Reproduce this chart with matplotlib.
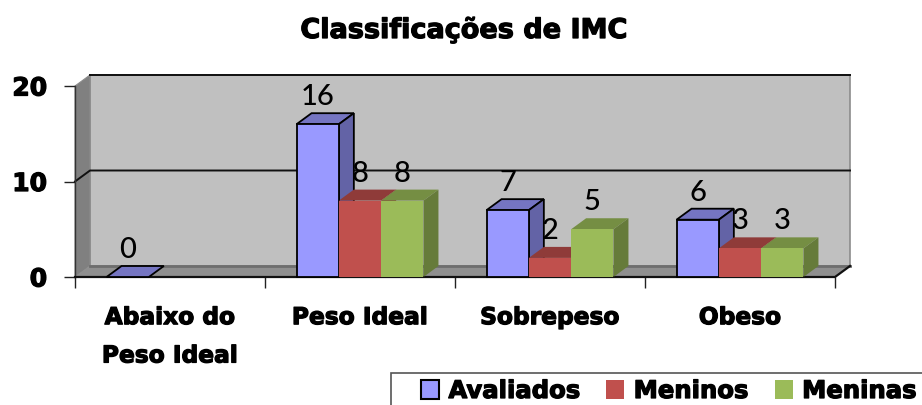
import numpy as np
import matplotlib
matplotlib.use("Agg")
import matplotlib.pyplot as plt
import matplotlib.patheffects as pe
from matplotlib.patches import Patch, Rectangle

categories = ["Abaixo do\nPeso Ideal", "Peso Ideal", "Sobrepeso", "Obeso"]
avaliados = [0, 16, 7, 6]
meninos = [None, 8, 2, 3]
meninas = [None, 8, 5, 3]
series_names = ["Avaliados", "Meninos", "Meninas"]
y_ticks = [0, 10, 20]

# front, top, side, edge
blue = ("#9999FF", "#7575C2", "#6363A6", "black")
red = ("#C0504D", "#8F3B39", "#8F3B39", "none")
green = ("#9BBB59", "#758E43", "#667B3A", "none")

W, H = 922, 405
FONT = "DejaVu Sans"
heavy = [pe.withStroke(linewidth=0.9, foreground="black")]

fig = plt.figure(figsize=(W / 100, H / 100), dpi=100)
ax = fig.add_axes([75 / W, (H - 277) / H, 760 / W, 191 / H])
ax.set_xlim(0, 4)
ax.set_ylim(0, 20)

# 3d offset in data units
dx = 15 / 190
dy = 11 / 9.55
bar_w = 42.3 / 190


def poly(xs, ys, color, edge="none", lw=0, z=1):
    ax.fill(xs, ys, facecolor=color, edgecolor=edge, linewidth=lw, zorder=z, clip_on=False)


# walls
poly([dx, 4 + dx, 4 + dx, dx], [dy, dy, 20 + dy, 20 + dy], "#C0C0C0", "#8C8C8C", 1.2)
poly([0, dx, dx, 0], [0, dy, 20 + dy, 20], "#808080", "#8C8C8C", 0.8)
poly([0, 4, 4 + dx, dx], [0, 0, dy, dy], "#8F8F8F")
ax.plot([dx, 4 + dx], [dy, dy], color="#6E6E6E", lw=2, zorder=1.5, clip_on=False)
ax.plot([0, dx, 4 + dx], [10, 10 + dy, 10 + dy], color="#111111", lw=1.4, zorder=1.6, clip_on=False)
ax.plot([dx, 4 + dx], [20 + dy, 20 + dy], color="#111111", lw=1.4, zorder=1.6, clip_on=False)
ax.plot([0, 0], [0, 20], color="#333333", lw=1, zorder=1.6, clip_on=False)
ax.plot([0, 4, 4 + dx], [0, 0, dy], color="#111111", lw=1.6, zorder=1.6, clip_on=False)


def bar3d(x, v, colors, z):
    front, top, side, edge = colors
    lw = 1.3 if edge != "none" else 0
    poly([x, x + bar_w, x + bar_w + dx, x + dx], [v, v, v + dy, v + dy], top, edge, lw, z)
    if v > 0:
        poly([x + bar_w, x + bar_w + dx, x + bar_w + dx, x + bar_w], [0, dy, v + dy, v], side, edge, lw, z)
        poly([x, x + bar_w, x + bar_w, x], [0, 0, v, v], front, edge, lw, z)
    ax.annotate(str(v), (x + bar_w / 2, v), xytext=(0, 19.5), textcoords="offset points",
                ha="center", va="center", fontsize=21, family="Lato", fontweight="medium",
                color="black", zorder=20, annotation_clip=False)


z = 2
for i in range(len(categories)):
    start = i + 0.5 - 1.5 * bar_w
    for j, (vals, cols) in enumerate(zip((avaliados, meninos, meninas), (blue, red, green))):
        if vals[i] is None:
            continue
        bar3d(start + j * bar_w, vals[i], cols, z)
        z += 1

for s in ax.spines.values():
    s.set_visible(False)
ax.patch.set_visible(False)

ax.set_yticks(y_ticks)
ylabels = ax.set_yticklabels([str(t) for t in y_ticks], fontsize=18, fontweight="bold", family=FONT)
ax.tick_params(axis="y", length=8, width=1, color="#222222", pad=12)
ax.set_xticks(np.arange(0, 5))
ax.set_xticklabels([])
ax.tick_params(axis="x", which="major", length=8, width=1, color="#222222")
ax.set_xticks(np.arange(len(categories)) + 0.5, minor=True)
xlabels = ax.set_xticklabels(categories, minor=True, fontsize=16.8, fontweight="bold", family=FONT, linespacing=1.85)
ax.tick_params(axis="x", which="minor", length=0, pad=21)

title = fig.text(464 / W, 1 - 31 / H, "Classificações de IMC", ha="center", va="center",
                 fontsize=19.5, fontweight="bold", family=FONT)

# legend frame runs off the canvas
fig.add_artist(Rectangle((391 / W, -5 / H), 545 / W, 37 / H, transform=fig.transFigure,
                         facecolor="white", edgecolor="#555555", linewidth=1.2))
handles = [Patch(facecolor=blue[0], edgecolor="black", linewidth=1.5),
           Patch(facecolor=red[0]), Patch(facecolor=green[0])]
leg = fig.legend(handles, series_names, ncols=3, loc="center left",
                 bbox_to_anchor=(421 / W, 1 - 391 / H), bbox_transform=fig.transFigure,
                 frameon=False, borderaxespad=0, borderpad=0,
                 prop={"family": FONT, "weight": "bold", "size": 17.5},
                 handlelength=0.75, handleheight=0.8, handletextpad=0.38, columnspacing=1.1)

for t in list(ylabels) + list(xlabels) + [title] + leg.get_texts():
    t.set_path_effects(heavy)

fig.savefig("out.png", dpi=100)
